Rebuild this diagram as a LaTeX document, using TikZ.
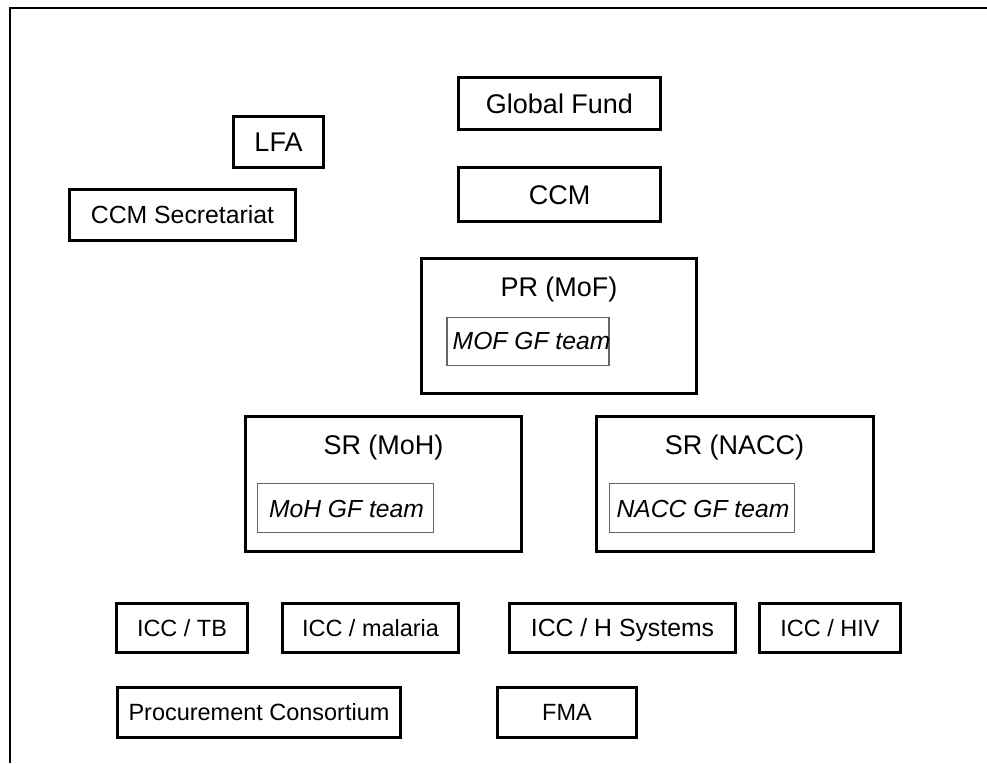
\documentclass[tikz,border=0pt]{standalone}
\usepackage{fontspec}
\setmainfont{Liberation Sans}
\begin{document}
\begin{tikzpicture}[x=0.75pt,y=-0.75pt,
  box/.style={draw=black, line width=2.2pt, inner sep=0pt, align=center},
  big/.style={font=\fontsize{20.25}{24}\selectfont, text height=14.5pt, text depth=0pt},
  mid/.style={font=\fontsize{18.6}{22}\selectfont, text height=13.3pt, text depth=0pt},
  small/.style={font=\fontsize{17.6}{21}\selectfont, text height=12.6pt, text depth=0pt},
  team/.style={draw=black!60, line width=1.1pt, inner sep=0pt},
  teamtext/.style={inner sep=0pt, font=\fontsize{18.5}{22}\selectfont\itshape, text height=13.25pt, text depth=0pt},
  lbl/.style={inner sep=0pt, big}]
\useasboundingbox (0,0) rectangle (987,763);
% frame
\draw[line width=1.5pt] (9.5,763) -- (9.5,8) -- (987,8);
% top
\node[box, big, minimum width=202*0.75pt, minimum height=52*0.75pt] (gf) at (559.5,103.5) {Global Fund};
\node[box, big, minimum width=202*0.75pt, minimum height=54*0.75pt] (ccm) at (559.5,194.5) {CCM};
\node[box, big, minimum width=90*0.75pt, minimum height=51*0.75pt] (lfa) at (278.5,142) {LFA};
\node[box, mid, minimum width=226*0.75pt, minimum height=51*0.75pt] (ccmsec) at (182.5,215) {CCM Secretariat};
% PR
\node[box, minimum width=275*0.75pt, minimum height=135*0.75pt] (pr) at (559,326) {};
\node[lbl] (prlbl) at (559,287) {PR (MoF)};
\node[team, minimum width=162*0.75pt, minimum height=48*0.75pt] (mof) at (528,341.5) {};
\node[teamtext] (moftxt) at (531.5,341) {MOF GF team};
% SR MoH
\node[box, minimum width=276*0.75pt, minimum height=135*0.75pt] (srmoh) at (383.5,484) {};
\node[lbl] (srmohlbl) at (383.5,444.5) {SR (MoH)};
\node[team, minimum width=176*0.75pt, minimum height=49*0.75pt] (moh) at (345.5,508) {};
\node[teamtext] (mohtxt) at (346.5,508.5) {MoH GF team};
% SR NACC
\node[box, minimum width=277*0.75pt, minimum height=135*0.75pt] (srnacc) at (735,484) {};
\node[lbl] (srnacclbl) at (734.5,444.5) {SR (NACC)};
\node[team, minimum width=185*0.75pt, minimum height=49*0.75pt] (nacc) at (702,508) {};
\node[teamtext] (nacctxt) at (703,508.5) {NACC GF team};
% ICC row
\node[box, small, minimum width=131*0.75pt, minimum height=49*0.75pt] (icctb) at (182,628) {ICC / TB};
\node[box, small, minimum width=176*0.75pt, minimum height=49*0.75pt] (iccmal) at (370.5,628) {ICC / malaria};
\node[box, mid, minimum width=226*0.75pt, minimum height=49*0.75pt] (icchs) at (622.5,628) {ICC / H Systems};
\node[box, small, minimum width=141*0.75pt, minimum height=49*0.75pt] (icchiv) at (830,628) {ICC / HIV};
% bottom row
\node[box, small, minimum width=283*0.75pt, minimum height=50*0.75pt] (proc) at (259,712.5) {Procurement Consortium};
\node[box, small, minimum width=139*0.75pt, minimum height=50*0.75pt] (fma) at (567,712.5) {FMA};
\end{tikzpicture}
\end{document}
